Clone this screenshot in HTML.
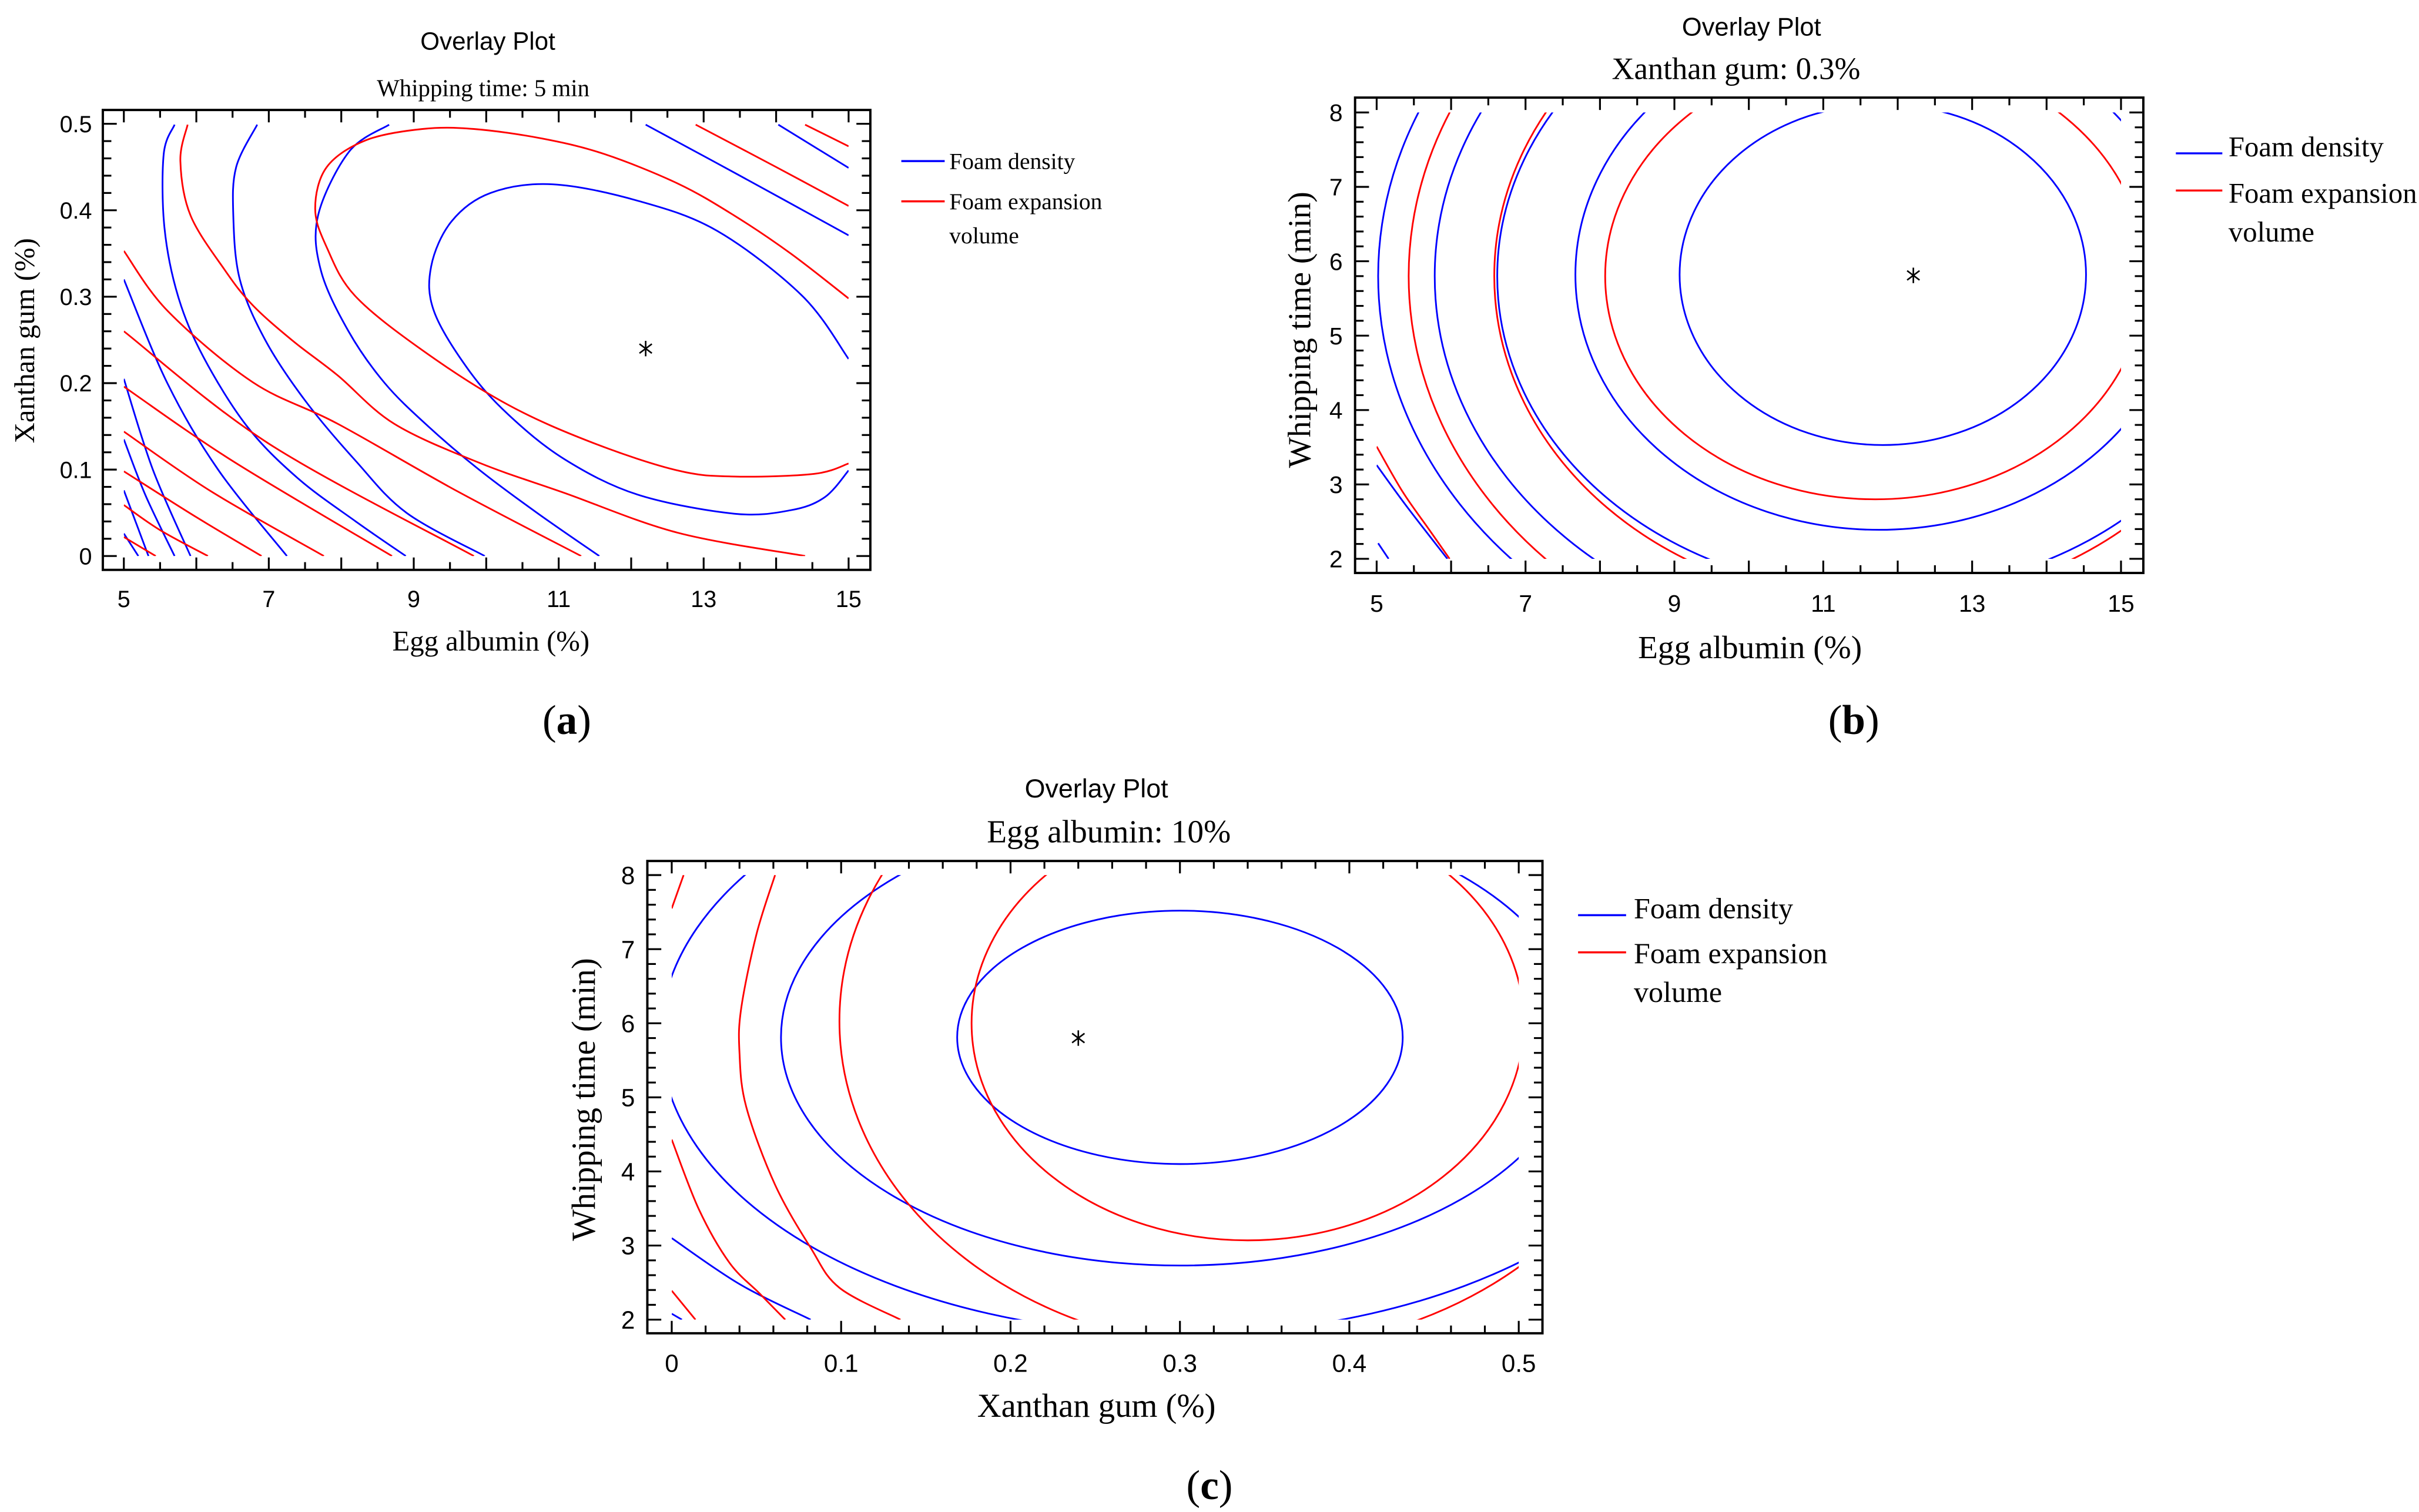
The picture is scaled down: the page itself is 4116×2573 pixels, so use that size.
<!DOCTYPE html>
<html><head><meta charset="utf-8"><style>
html,body{margin:0;padding:0;background:#fff;}
svg{display:block;}
.t{font-family:"Liberation Serif",serif;fill:#000;}
.s{font-family:"Liberation Sans",sans-serif;fill:#000;}
</style></head><body>
<svg id="fig" xmlns="http://www.w3.org/2000/svg" width="4116" height="2573" viewBox="0 0 1562 976.4">
<rect x="0" y="0" width="1562" height="976.4" fill="#fff"/>
<defs id="defs"></defs>
<g>
<text class="s" x="315" y="32" font-size="16" text-anchor="middle">Overlay Plot</text>
<text class="t" x="312" y="62" font-size="15.5" text-anchor="middle">Whipping time: 5 min</text>
<text class="t" x="317" y="420" font-size="18.5" text-anchor="middle">Egg albumin (%)</text>
<text class="t" x="0" y="0" font-size="18.5" text-anchor="middle" transform="translate(22,220) rotate(-90)">Xanthan gum (%)</text>
<line x1="582" y1="104" x2="610" y2="104" stroke="#0000ff" stroke-width="1.3"/>
<text class="t" x="613" y="109" font-size="15">Foam density</text>
<line x1="582" y1="130" x2="610" y2="130" stroke="#ff0000" stroke-width="1.3"/>
<text class="t" x="613" y="135" font-size="15">Foam expansion</text>
<text class="t" x="613" y="157" font-size="15">volume</text>
<text class="t" x="366" y="474" font-size="27" text-anchor="middle">(<tspan font-weight="bold">a</tspan>)</text>
</g>
<g>
<text class="s" x="1131" y="23" font-size="16.5" text-anchor="middle">Overlay Plot</text>
<text class="t" x="1121" y="51" font-size="20" text-anchor="middle">Xanthan gum: 0.3%</text>
<text class="t" x="1130" y="425" font-size="21" text-anchor="middle">Egg albumin (%)</text>
<text class="t" x="0" y="0" font-size="21" text-anchor="middle" transform="translate(846,213) rotate(-90)">Whipping time (min)</text>
<line x1="1405" y1="99" x2="1435" y2="99" stroke="#0000ff" stroke-width="1.3"/>
<text class="t" x="1439" y="101" font-size="18.5">Foam density</text>
<line x1="1405" y1="123" x2="1435" y2="123" stroke="#ff0000" stroke-width="1.3"/>
<text class="t" x="1439" y="131" font-size="18.5">Foam expansion</text>
<text class="t" x="1439" y="156" font-size="18.5">volume</text>
<text class="t" x="1197" y="474" font-size="27" text-anchor="middle">(<tspan font-weight="bold">b</tspan>)</text>
</g>
<g>
<text class="s" x="708" y="515" font-size="17" text-anchor="middle">Overlay Plot</text>
<text class="t" x="716" y="544" font-size="21" text-anchor="middle">Egg albumin: 10%</text>
<text class="t" x="708" y="915" font-size="21.5" text-anchor="middle">Xanthan gum (%)</text>
<text class="t" x="0" y="0" font-size="21.5" text-anchor="middle" transform="translate(384,710) rotate(-90)">Whipping time (min)</text>
<line x1="1019" y1="591" x2="1050" y2="591" stroke="#0000ff" stroke-width="1.3"/>
<text class="t" x="1055" y="593" font-size="19">Foam density</text>
<line x1="1019" y1="615" x2="1050" y2="615" stroke="#ff0000" stroke-width="1.3"/>
<text class="t" x="1055" y="622" font-size="19">Foam expansion</text>
<text class="t" x="1055" y="647" font-size="19">volume</text>
<text class="t" x="781" y="968" font-size="27" text-anchor="middle">(<tspan font-weight="bold">c</tspan>)</text>
</g>
<g id="plots"></g>
</svg>
<script>
// ---------- Panel A data (x: egg albumin %, y: xanthan gum %) ----------
const aXTickLabels = [5, 7, 9, 11, 13, 15];
const aYTickLabels = [0, 0.1, 0.2, 0.3, 0.4, 0.5];
const aBlueLines = [
  [[15,0.228],[14.36,0.301],[13.19,0.376],[12.09,0.411],[10.92,0.43],[10.06,0.42],[9.52,0.387],[9.24,0.335],[9.28,0.283],[9.75,0.216],[10.3,0.164],[11.08,0.112],[12.09,0.071],[13.42,0.049],[14.2,0.053],[14.67,0.068],[15,0.099]],
  [[8.66,0.499],[8.11,0.468],[7.68,0.394],[7.72,0.33],[8.1,0.26],[8.6,0.2],[9.2,0.15],[9.9,0.1],[10.7,0.05],[11.56,0]],
  [[6.84,0.499],[6.55,0.45],[6.51,0.394],[6.6,0.32],[6.95,0.25],[7.5,0.18],[8.2,0.11],[8.9,0.05],[9.98,0]],
  [[5.7,0.499],[5.55,0.465],[5.56,0.38],[5.75,0.3],[6.1,0.23],[6.7,0.15],[7.4,0.09],[8.2,0.04],[8.89,0]],
  [[5,0.32],[5.6,0.2],[6.3,0.1],[7.25,0]],
  [[5,0.205],[5.4,0.1],[5.92,0]],
  [[5,0.135],[5.3,0.07],[5.7,0]],
  [[5,0.076],[5.34,0]],
  [[5,0.026],[5.2,0]],
  [[12.2,0.499],[13.5,0.44],[15,0.371]],
  [[14.03,0.499],[15,0.449]]
];
const aRedLines = [
  [[15,0.107],[14.52,0.095],[13.42,0.092],[12.64,0.099],[11.47,0.131],[10.3,0.175],[9.12,0.238],[8.19,0.301],[7.8,0.357],[7.64,0.402],[7.8,0.45],[8.34,0.481],[9.12,0.494],[9.83,0.494],[10.77,0.483],[11.63,0.465],[12.64,0.431],[13.42,0.394],[14.2,0.35],[15,0.298]],
  [[5.88,0.499],[5.78,0.457],[5.92,0.394],[6.4,0.33],[6.78,0.29],[7.33,0.249],[7.95,0.209],[8.73,0.153],[9.9,0.108],[11.08,0.073],[12.64,0.027],[14.4,0]],
  [[5,0.353],[5.61,0.283],[6.78,0.201],[7.95,0.153],[9.6,0.075],[11.31,0]],
  [[5,0.26],[7,0.13],[9.83,0]],
  [[5,0.196],[6.5,0.11],[8.7,0]],
  [[5,0.144],[6.2,0.075],[7.76,0]],
  [[5,0.098],[6,0.045],[6.9,0]],
  [[5,0.059],[5.5,0.03],[6.16,0]],
  [[5,0.022],[5.44,0]],
  [[12.89,0.499],[14,0.45],[15,0.405]],
  [[14.4,0.499],[15,0.474]]
];
const aOptimum = [12.2, 0.24];

// ---------- Panel B data (x: egg albumin %, y: whipping time min) ----------
const bXTickLabels = [5, 7, 9, 11, 13, 15];
const bYTickLabels = [2, 3, 4, 5, 6, 7, 8];
const bBlueEllipses = [[11.8,5.82,2.73,2.29],[11.75,5.82,4.08,3.43],[11.75,5.8,5.13,4.25],[11.75,5.8,5.97,4.96],[11.75,5.8,6.73,5.6]];
const bRedEllipses = [[11.7,5.8,3.63,3.0],[11.75,5.8,5.17,4.4],[11.75,5.8,6.32,5.39]];
const bBlueLines = [[[5,3.26],[5.4,2.71],[5.95,2]],[[5.02,2.21],[5.16,2]]];
const bRedLines = [[[5,3.51],[5.35,2.9],[5.7,2.4],[5.98,2]]];
const bOptimum = [12.21, 5.81];

// ---------- Panel C data (x: xanthan gum %, y: whipping time min) ----------
const cXTickLabels = [0, 0.1, 0.2, 0.3, 0.4, 0.5];
const cYTickLabels = [2, 3, 4, 5, 6, 7, 8];
const cBlueEllipses = [[0.30,5.81,0.1315,1.71],[0.30,5.81,0.2355,3.08],[0.30,5.81,0.3066,4.01]];
const cRedEllipses = [[0.34,6.0,0.163,2.93],[0.34,6.03,0.241,4.44]];
const cBlueLines = [[[0,3.1],[0.04,2.48],[0.082,2]],[[0,2.08],[0.006,2]]];
const cRedLines = [
  [[0.061,8],[0.05,7.2],[0.041,6.2],[0.04,5.6],[0.044,4.87],[0.061,3.82],[0.082,2.97],[0.099,2.43],[0.135,2]],
  [[0,4.43],[0.016,3.49],[0.034,2.77],[0.052,2.35],[0.067,2]],
  [[0,2.39],[0.014,2]],
  [[0,7.55],[0.007,8]]
];
const cOptimum = [0.24, 5.8];

const NS = 'http://www.w3.org/2000/svg';
const root = document.getElementById('plots');
const defs = document.getElementById('defs');
function mk(tag, attrs, parent) {
  const e = document.createElementNS(NS, tag);
  for (const k in attrs) e.setAttribute(k, attrs[k]);
  (parent || root).appendChild(e);
  return e;
}
function makeScale(d0, d1, p0, p1) { return v => p0 + (v - d0) / (d1 - d0) * (p1 - p0); }
function smoothPath(P) {
  if (P.length < 3) return 'M' + P.map(p => p[0].toFixed(2) + ' ' + p[1].toFixed(2)).join(' L');
  let d = 'M' + P[0][0].toFixed(2) + ' ' + P[0][1].toFixed(2);
  for (let i = 0; i < P.length - 1; i++) {
    const p0 = P[Math.max(0, i - 1)], p1 = P[i], p2 = P[i + 1], p3 = P[Math.min(P.length - 1, i + 2)];
    const c1 = [p1[0] + (p2[0] - p0[0]) / 6, p1[1] + (p2[1] - p0[1]) / 6];
    const c2 = [p2[0] - (p3[0] - p1[0]) / 6, p2[1] - (p3[1] - p1[1]) / 6];
    d += ' C' + c1[0].toFixed(2) + ' ' + c1[1].toFixed(2) + ' ' + c2[0].toFixed(2) + ' ' + c2[1].toFixed(2) + ' ' + p2[0].toFixed(2) + ' ' + p2[1].toFixed(2);
  }
  return d;
}

function drawPanel(p) {
  const g = mk('g', {});
  
  
  const sx = makeScale(p.xd[0], p.xd[1], p.box[0], p.box[2]);
  const sy = makeScale(p.yd[0], p.yd[1], p.box[3], p.box[1]);
  const cp = mk('clipPath', {id: 'clip-' + p.id}, defs);
  mk('rect', {x: sx(p.cr[0]), y: sy(p.cr[3]), width: sx(p.cr[1]) - sx(p.cr[0]), height: sy(p.cr[2]) - sy(p.cr[3])}, cp);
  const cg = mk('g', {'clip-path': 'url(#clip-' + p.id + ')'}, g);
  
  
  function lines(arr, color, nm) {
    arr.forEach((pts, i) => {
      const d = smoothPath(pts.map(q => [sx(q[0]), sy(q[1])]));
      const e = mk('path', {d: d, fill: 'none', stroke: color, 'stroke-width': 1.1, 'stroke-linejoin': 'round'}, cg);
      
      
    });
  }
  function ellipses(arr, color, nm) {
    arr.forEach((el, i) => {
      const e = mk('ellipse', {cx: sx(el[0]), cy: sy(el[1]), rx: Math.abs(sx(el[0] + el[2]) - sx(el[0])), ry: Math.abs(sy(el[1] + el[3]) - sy(el[1])), fill: 'none', stroke: color, 'stroke-width': 1.1}, cg);
      
      
    });
  }
  if (p.blueE) ellipses(p.blueE, '#0000ff', 'foam-density');
  if (p.redE) ellipses(p.redE, '#ff0000', 'foam-expansion');
  lines(p.blueL, '#0000ff', 'foam-density');
  lines(p.redL, '#ff0000', 'foam-expansion');
  const ox = sx(p.opt[0]), oy = sy(p.opt[1]);
  const st = mk('g', {stroke: '#000', 'stroke-width': 1}, g);
  
  
  [[0,-5,0,5],[-4,-3,4,3],[-4,3,4,-3]].forEach(s => mk('line', {x1: ox + s[0], y1: oy + s[1], x2: ox + s[2], y2: oy + s[3]}, st));
  const fr = mk('rect', {x: p.box[0], y: p.box[1], width: p.box[2] - p.box[0], height: p.box[3] - p.box[1], fill: 'none', stroke: '#000', 'stroke-width': 1.5}, g);
  
  
  const tg = mk('g', {stroke: '#000', 'stroke-width': 1.2}, g);
  
  
  const eps = 1e-9;
  for (let v = p.xt[0]; v <= p.xt[1] + eps; v += p.xt[3]) {
    const isMaj = Math.abs(((v - p.xt[0]) / p.xt[2]) - Math.round((v - p.xt[0]) / p.xt[2])) < 1e-6;
    const L = isMaj ? 8 : 5, x = sx(v);
    mk('line', {x1: x, y1: p.box[3], x2: x, y2: p.box[3] - L}, tg);
    mk('line', {x1: x, y1: p.box[1], x2: x, y2: p.box[1] + L}, tg);
  }
  for (let v = p.yt[0]; v <= p.yt[1] + eps; v += p.yt[3]) {
    const isMaj = Math.abs(((v - p.yt[0]) / p.yt[2]) - Math.round((v - p.yt[0]) / p.yt[2])) < 1e-6;
    const L = isMaj ? 9 : 5.5, y = sy(v);
    mk('line', {x1: p.box[0], y1: y, x2: p.box[0] + L, y2: y}, tg);
    mk('line', {x1: p.box[2], y1: y, x2: p.box[2] - L, y2: y}, tg);
  }
  p.xl.forEach(v => {
    const t = mk('text', {x: sx(v), y: p.box[3] + p.xlOff, 'font-size': p.fs, 'text-anchor': 'middle', class: 's'}, g);
    t.textContent = String(v);
    
    
  });
  p.yl.forEach(v => {
    const t = mk('text', {x: p.box[0] - p.ylOff, y: sy(v) + p.fs * 0.36, 'font-size': p.fs, 'text-anchor': 'end', class: 's'}, g);
    t.textContent = String(v);
    
    
  });
}

drawPanel({id: 'a', box: [66.4, 71, 562, 368], xd: [4.71, 15.3], yd: [-0.016, 0.516], cr: [5, 15, 0, 0.5],
  xt: [5, 15, 1, 0.5], yt: [0, 0.5, 0.1, 0.02], xl: aXTickLabels, yl: aYTickLabels, xlOff: 24, ylOff: 7, fs: 15,
  blueL: aBlueLines, redL: aRedLines, opt: aOptimum});
drawPanel({id: 'b', box: [875, 63, 1384, 370], xd: [4.71, 15.3], yd: [1.81, 8.2], cr: [5, 15, 2, 8],
  xt: [5, 15, 1, 0.5], yt: [2, 8, 1, 0.2], xl: bXTickLabels, yl: bYTickLabels, xlOff: 25, ylOff: 8, fs: 15.5,
  blueE: bBlueEllipses, redE: bRedEllipses, blueL: bBlueLines, redL: bRedLines, opt: bOptimum});
drawPanel({id: 'c', box: [418, 556, 996, 861], xd: [-0.0144, 0.514], yd: [1.816, 8.19], cr: [0, 0.5, 2, 8],
  xt: [0, 0.5, 0.1, 0.02], yt: [2, 8, 1, 0.2], xl: cXTickLabels, yl: cYTickLabels, xlOff: 25, ylOff: 8, fs: 16,
  blueE: cBlueEllipses, redE: cRedEllipses, blueL: cBlueLines, redL: cRedLines, opt: cOptimum});
</script>
</body></html>
